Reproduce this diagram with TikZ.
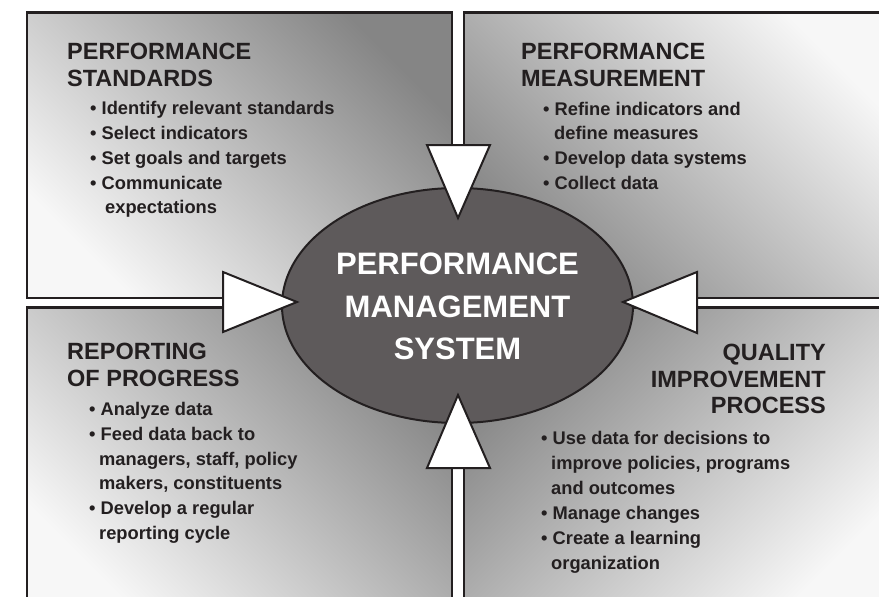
\documentclass[tikz,border=0pt]{standalone}
\usepackage{fontspec}
\setmainfont{Liberation Sans}
\usetikzlibrary{shapes.geometric}
\definecolor{ink}{HTML}{231F20}
\definecolor{shadeDark}{HTML}{858585}
\definecolor{shadeLight}{HTML}{F7F7F7}
\definecolor{hubfill}{HTML}{5E5A5B}
\begin{document}
\begin{tikzpicture}[x=1pt,y=-1pt,
  panel/.style={draw=ink, line width=2.6pt, top color=shadeDark, bottom color=shadeLight},
  hub/.style={ellipse, draw=ink, line width=2pt, fill=hubfill,
    minimum width=351pt, minimum height=235pt, inner sep=0pt},
  hubtext/.style={inner sep=0pt, text=white, align=center,
    font=\fontsize{31}{42.5}\bfseries\selectfont},
  pointer/.style={draw=ink, fill=white, line width=2pt, line join=miter},
  head/.style={anchor=base west, inner sep=0pt, text=ink,
    font=\fontsize{23.5}{27}\bfseries\selectfont},
  headr/.style={head, anchor=base east},
  item/.style={anchor=base west, inner sep=0pt, text=ink,
    font=\fontsize{18.3}{25}\bfseries\selectfont}]

\useasboundingbox (0,0) rectangle (879,597);
\clip (0,0) rectangle (879,597);

% four quadrant panels
\path[panel, shading angle=-45] (27,12.5) rectangle (452,298);
\path[panel, shading angle=135] (464,12.5) rectangle (892,298);
\path[panel, shading angle=-45] (27,307.5) rectangle (452,612);
\path[panel, shading angle=45]  (464,307.5) rectangle (892,612);

% central hub
\node[hub] (pms) at (457.5,305.5) {};
\node[hubtext] (pmslabel) at (457.5,306.5) {PERFORMANCE\\MANAGEMENT\\SYSTEM};

% pointers into the hub
\path[pointer] (427,145) -- (490,145) -- (458,218) -- cycle;
\path[pointer] (223,272) -- (223,332) -- (297,302) -- cycle;
\path[pointer] (697,272) -- (697,333) -- (623,302) -- cycle;
\path[pointer] (427,468) -- (490,468) -- (458,395) -- cycle;

% top left: standards
\node[head] (tlh1) at (67,59) {PERFORMANCE};
\node[head] (tlh2) at (67,86) {STANDARDS};
\node[item] (tl1) at (90,114) {• Identify relevant standards};
\node[item] (tl2) at (90,139) {• Select indicators};
\node[item] (tl3) at (90,164) {• Set goals and targets};
\node[item] (tl4) at (90,189) {• Communicate};
\node[item] (tl5) at (105,213) {expectations};

% top right: measurement
\node[head] (trh1) at (521,59) {PERFORMANCE};
\node[head] (trh2) at (521,86) {MEASUREMENT};
\node[item] (tr1) at (543,115) {• Refine indicators and};
\node[item] (tr2) at (554,139) {define measures};
\node[item] (tr3) at (543,164) {• Develop data systems};
\node[item] (tr4) at (543,189) {• Collect data};

% bottom left: reporting
\node[head] (blh1) at (67,359) {REPORTING};
\node[head] (blh2) at (67,386) {OF PROGRESS};
\node[item] (bl1) at (89,415) {• Analyze data};
\node[item] (bl2) at (89,440) {• Feed data back to};
\node[item] (bl3) at (99,465) {managers, staff, policy};
\node[item] (bl4) at (99,489.5) {makers, constituents};
\node[item] (bl5) at (89,514) {• Develop a regular};
\node[item] (bl6) at (99,539) {reporting cycle};

% bottom right: quality improvement
\node[headr] (brh1) at (826,360) {QUALITY};
\node[headr] (brh2) at (826,387) {IMPROVEMENT};
\node[headr] (brh3) at (826,413) {PROCESS};
\node[item] (br1) at (541,444) {• Use data for decisions to};
\node[item] (br2) at (551,469) {improve policies, programs};
\node[item] (br3) at (551,494) {and outcomes};
\node[item] (br4) at (541,519) {• Manage changes};
\node[item] (br5) at (541,544) {• Create a learning};
\node[item] (br6) at (551,569) {organization};
\end{tikzpicture}
\end{document}
